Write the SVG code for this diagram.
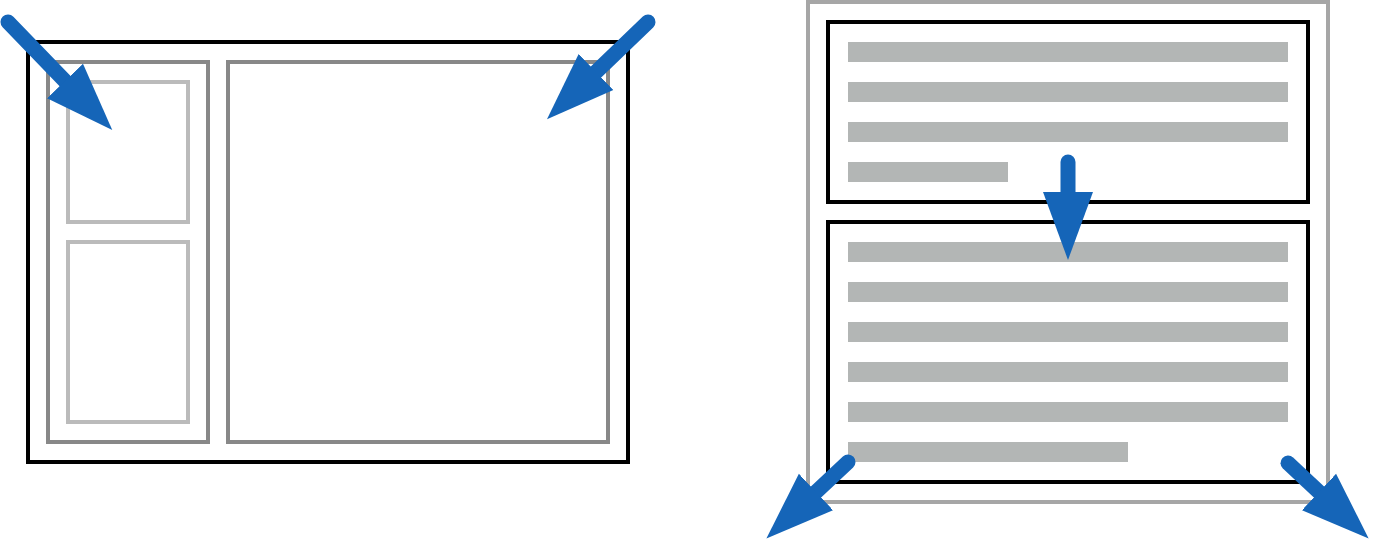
<svg xmlns="http://www.w3.org/2000/svg" width="1376" height="550" viewBox="0 0 1376 550">
<style>
.k{fill:none;stroke:#000;stroke-width:4}
.g{fill:none;stroke:#888;stroke-width:4}
.l{fill:none;stroke:#bbb;stroke-width:4}
.o{fill:none;stroke:#a6a6a6;stroke-width:4}
.b{fill:#b3b6b5}
.a{fill:none;stroke:#1565b8;stroke-width:15;stroke-linecap:round}
</style>
<defs>
<marker id="ah" markerUnits="userSpaceOnUse" markerWidth="70" markerHeight="52" viewBox="0 -26 70 52" refX="0" refY="0" orient="auto">
<path d="M0,-25 L68,0 L0,25 Z" fill="#1565b8"/>
</marker>
</defs>
<rect width="1376" height="550" fill="#fff"/>
<g id="left-window">
<rect class="k" x="28" y="42" width="600" height="420"/>
<rect class="g" x="48" y="62" width="160" height="380"/>
<rect class="g" x="228" y="62" width="380" height="380"/>
<rect class="l" x="68" y="82" width="120" height="140"/>
<rect class="l" x="68" y="242" width="120" height="180"/>
</g>
<g id="right-page">
<rect class="o" x="808" y="2" width="520" height="500"/>
<rect class="k" x="828" y="22" width="480" height="180"/>
<rect class="k" x="828" y="222" width="480" height="260"/>
<rect class="b" x="848" y="42" width="440" height="20"/>
<rect class="b" x="848" y="82" width="440" height="20"/>
<rect class="b" x="848" y="122" width="440" height="20"/>
<rect class="b" x="848" y="162" width="160" height="20"/>
<rect class="b" x="848" y="242" width="440" height="20"/>
<rect class="b" x="848" y="282" width="440" height="20"/>
<rect class="b" x="848" y="322" width="440" height="20"/>
<rect class="b" x="848" y="362" width="440" height="20"/>
<rect class="b" x="848" y="402" width="440" height="20"/>
<rect class="b" x="848" y="442" width="280" height="20"/>
</g>
<g id="connectors">
<line class="a" x1="8" y1="22" x2="65" y2="81" marker-end="url(#ah)"/>
<line class="a" x1="648" y1="22" x2="596" y2="72" marker-end="url(#ah)"/>
<line class="a" x1="1068" y1="162" x2="1068" y2="192" marker-end="url(#ah)"/>
<line class="a" x1="848" y1="462" x2="816" y2="492" marker-end="url(#ah)"/>
<line class="a" x1="1288" y1="463" x2="1319" y2="492" marker-end="url(#ah)"/>
</g>
</svg>
